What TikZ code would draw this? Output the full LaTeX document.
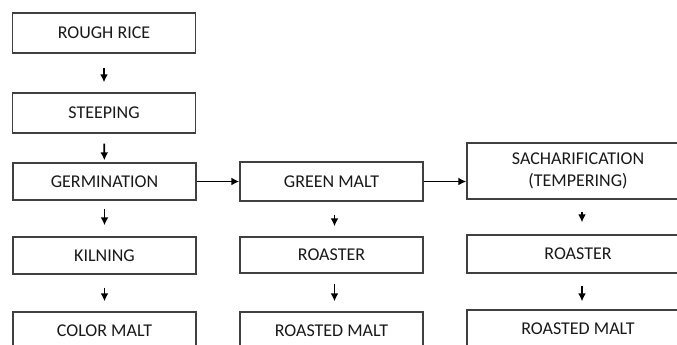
\documentclass[tikz,border=0pt]{standalone}
\usepackage{fontspec}
\setmainfont{Carlito}
\usetikzlibrary{arrows.meta}

\tikzset{
    stepbox/.style={draw=black!75, line width=1.4pt, fill=white, align=center,
        inner sep=0pt, text=black!90, font=\fontsize{18}{22}\selectfont},
    flow/.style={black, line width=1.8pt, -{Latex[length=8pt,width=8pt]}},
}

\begin{document}
\begin{tikzpicture}[x=1pt, y=-1pt]
    % Page frame
    \useasboundingbox (0,0) rectangle (677,345);
    \clip (0,0) rectangle (677,345);

    % Left column: rough rice to color malt
    \node[stepbox, minimum width=183pt, minimum height=40pt] (rice) at (104,33) {ROUGH RICE};
    \node[stepbox, minimum width=183pt, minimum height=40pt] (steep) at (104,113) {STEEPING};
    \node[stepbox, minimum width=183pt, minimum height=37pt] (germ) at (104.5,181.5) {GERMINATION};
    \node[stepbox, minimum width=183pt, minimum height=37pt] (kiln) at (104.5,255.5) {KILNING};
    \node[stepbox, minimum width=183pt, minimum height=38pt] (colormalt) at (104.5,331) {COLOR MALT};

    % Middle column
    \node[stepbox, minimum width=183pt, minimum height=39pt] (green) at (331.5,181.5) {GREEN MALT};
    \node[stepbox, minimum width=183pt, minimum height=36pt] (roastA) at (331.5,255) {ROASTER};
    \node[stepbox, minimum width=183pt, minimum height=38pt] (roastedA) at (331.5,331) {ROASTED MALT};

    % Right column (runs past the page edge)
    \node[stepbox, minimum width=222pt, minimum height=56pt] (sach) at (578,171) {SACHARIFICATION\\(TEMPERING)};
    \node[stepbox, minimum width=222pt, minimum height=38pt] (roastB) at (578,254) {ROASTER};
    \node[stepbox, minimum width=222pt, minimum height=38pt] (roastedB) at (578,329) {ROASTED MALT};

    % Down arrows
    \draw[flow, shorten <=14pt, shorten >=10pt] (rice) -- (steep);
    \draw[flow, shorten <=10pt, shorten >=2pt] (steep) -- (germ);
    \draw[flow, shorten <=8pt, shorten >=11pt] (germ) -- (kiln);
    \draw[flow, shorten <=13pt, shorten >=10pt] (kiln) -- (colormalt);
    \draw[flow, shorten <=13pt, shorten >=10pt] (green.south) ++(3,0) coordinate (gs) (gs) -- (gs |- roastA.north);
    \draw[flow, shorten <=10pt, shorten >=10pt] (roastA.south) ++(3,0) coordinate (rs) (rs) -- (rs |- roastedA.north);
    \draw[flow, shorten <=12pt, shorten >=12pt] (sach.south) ++(4,0) coordinate (ss) (ss) -- (ss |- roastB.north);
    \draw[flow, shorten <=12pt, shorten >=8pt] (roastB.south) ++(4,0) coordinate (bs) (bs) -- (bs |- roastedB.north);

    % Side arrows
    \draw[flow] (germ) -- (green);
    \draw[flow] (green.east) -- (green.east -| sach.west);
\end{tikzpicture}
\end{document}
